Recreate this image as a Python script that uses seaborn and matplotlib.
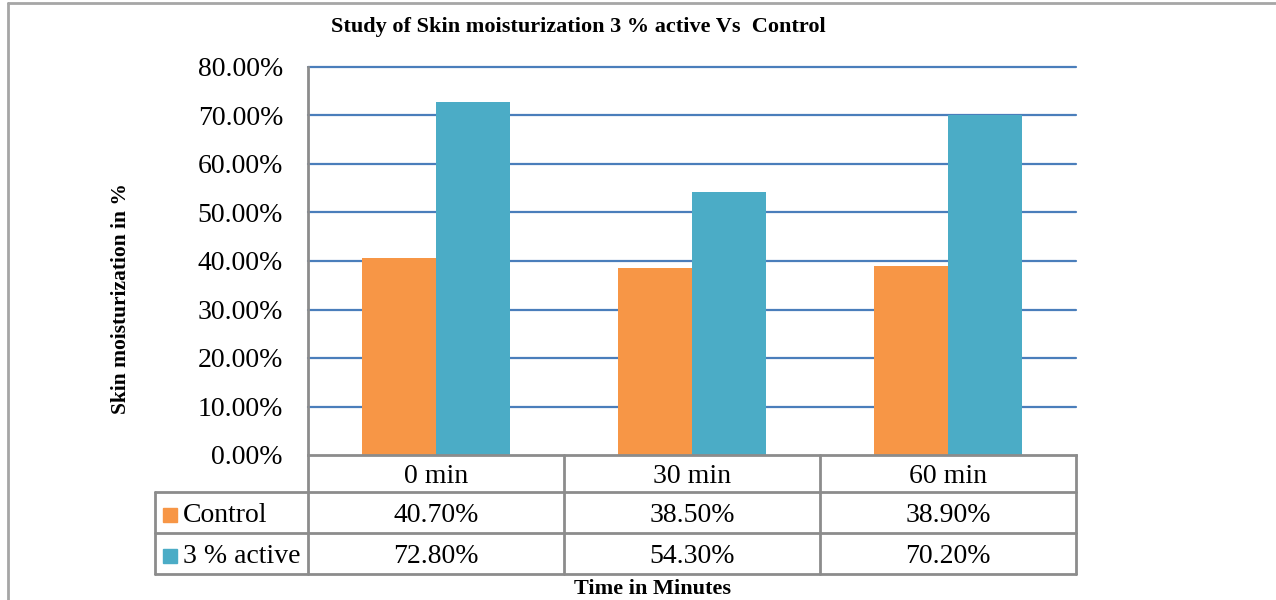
import matplotlib
matplotlib.use("Agg")
import matplotlib.pyplot as plt
import seaborn as sns
import pandas as pd
from matplotlib.patches import Rectangle
from matplotlib.lines import Line2D

# Data (percent)
categories = ["0 min", "30 min", "60 min"]
series_names = ["Control", "3 % active"]
control = [40.70, 38.50, 38.90]
active = [72.80, 54.30, 70.20]
y_ticks = [0, 10, 20, 30, 40, 50, 60, 70, 80]

colors = ["#F79646", "#4BACC6"]
grid_blue = "#4A7EBB"
table_gray = "#8C8C8C"

sns.set_theme(style="white")
plt.rcParams["font.family"] = ["Liberation Serif", "DejaVu Serif"]
plt.rcParams["text.color"] = "black"
plt.rcParams["ytick.color"] = "black"

W, H = 1276, 600
fig = plt.figure(figsize=(W / 100, H / 100), dpi=100)


def fx(x):
    return x / W


def fy(y):
    return 1 - y / H


# plot area in pixel terms
left, right, top, bottom = 308, 1076, 67, 455
ax = fig.add_axes([fx(left), fy(bottom), fx(right) - fx(left), fy(top) - fy(bottom)])

df = pd.DataFrame({
    "Time": categories * 2,
    "Series": [series_names[0]] * 3 + [series_names[1]] * 3,
    "Value": control + active,
})
sns.barplot(data=df, x="Time", y="Value", hue="Series", order=categories,
            hue_order=series_names, palette=colors, width=0.575, gap=0,
            saturation=1, ax=ax, legend=False, edgecolor="none", linewidth=0)

ax.set_xlim(-0.5, len(categories) - 0.5)
ax.set_ylim(0, 80)
ax.set_yticks(y_ticks)
ax.set_yticklabels([f"{t:.2f}%" for t in y_ticks], fontsize=20,
                   va="center_baseline")
ax.tick_params(axis="y", length=0, pad=18)
ax.set_xticks([])
ax.set_xlabel("")
ax.set_ylabel("")
for t in y_ticks[1:]:
    ax.axhline(t, color=grid_blue, lw=1.6, zorder=0, clip_on=False)
ax.set_axisbelow(True)
for s in ["top", "right"]:
    ax.spines[s].set_visible(False)
for s in ["left", "bottom"]:
    ax.spines[s].set_color(table_gray)
    ax.spines[s].set_linewidth(2)

# Data table below the plot
leg_left = 155
row_edges = [bottom, 492, 533, 574]
col_edges_data = [i - 0.5 for i in range(len(categories) + 1)]
fig.canvas.draw()
col_px = [ax.transData.transform((c, 0))[0] for c in col_edges_data]


def hline(x0, x1, y):
    fig.add_artist(Line2D([x0 / W, x1 / W], [fy(y), fy(y)], color=table_gray, lw=2))


def vline(x, y0, y1):
    fig.add_artist(Line2D([x / W, x / W], [fy(y0), fy(y1)], color=table_gray, lw=2))


for y in row_edges[1:]:
    hline(leg_left, col_px[-1], y)
for x in col_px:
    vline(x, row_edges[0], row_edges[-1])
vline(leg_left, row_edges[1], row_edges[-1])

cell_fs = 20
text_dy = 3  # nudge cell text slightly below geometric centre
for i, cat in enumerate(categories):
    cx = (col_px[i] + col_px[i + 1]) / 2
    fig.text(fx(cx), fy((row_edges[0] + row_edges[1]) / 2 + text_dy), cat,
             ha="center", va="center", fontsize=cell_fs)
    for r, vals in enumerate([control, active]):
        cy = (row_edges[r + 1] + row_edges[r + 2]) / 2
        fig.text(fx(cx), fy(cy + text_dy), f"{vals[i]:.2f}%", ha="center",
                 va="center", fontsize=cell_fs)

for r, name in enumerate(series_names):
    cy = (row_edges[r + 1] + row_edges[r + 2]) / 2
    sq = 14
    fig.add_artist(Rectangle((fx(163), fy(cy + 2 + sq / 2)), sq / W, sq / H,
                             color=colors[r], transform=fig.transFigure))
    fig.text(fx(183), fy(cy + text_dy), name, ha="left", va="center",
             fontsize=cell_fs)

# Titles
fig.text(fx(578), fy(27), "Study of Skin moisturization 3 % active Vs  Control",
         ha="center", va="center", fontsize=16, fontweight="bold")
fig.text(fx(121), fy(299), "Skin moisturization in %", ha="center", va="center",
         rotation=90, fontsize=15.5, fontweight="bold")
fig.text(fx(652), fy(589), "Time in Minutes", ha="center", va="center",
         fontsize=16, fontweight="bold")

# Outer chart frame (left and top edges)
frame = "#A6A6A6"
fig.add_artist(Line2D([fx(8), fx(8)], [fy(3), 0], color=frame, lw=2))
fig.add_artist(Line2D([fx(8), 1], [fy(3), fy(3)], color=frame, lw=2))

fig.savefig("out.png", dpi=100)
